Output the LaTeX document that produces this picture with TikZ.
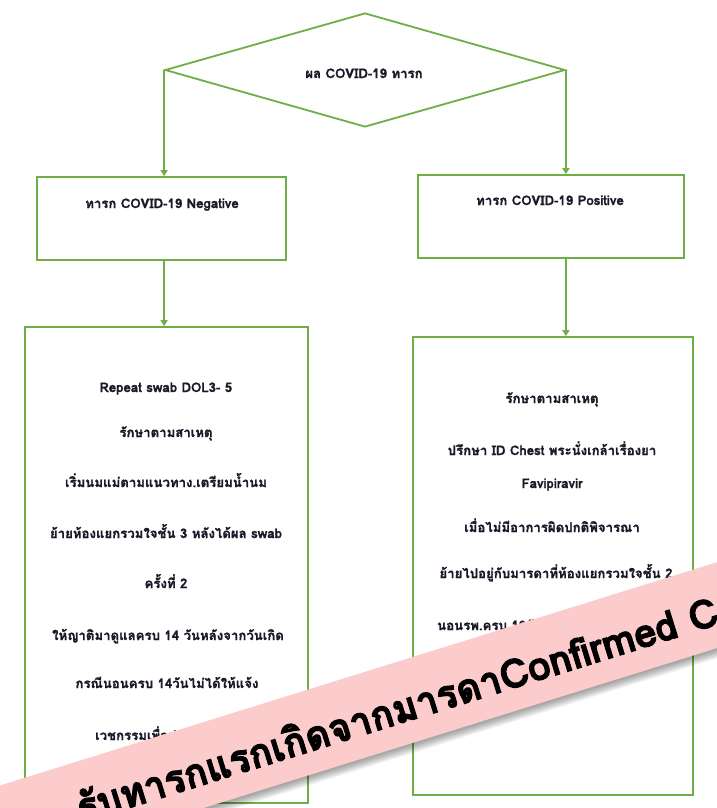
\documentclass[tikz,border=0pt]{standalone}
\usepackage{fontspec}
\newfontfamily\thaifont[Script=Thai,BoldFeatures={FakeBold=1.2}]{Loma}
\newfontfamily\banfont[Script=Thai,BoldFeatures={FakeBold=2.5}]{Loma}
\usetikzlibrary{arrows.meta,shapes.geometric}
\definecolor{grn}{RGB}{112,173,71}
\definecolor{pinkb}{RGB}{252,204,204}
\definecolor{ink}{RGB}{25,25,40}
\begin{document}
\begin{tikzpicture}[x=1pt,y=-1pt,
  boxs/.style={draw=grn,line width=1.8pt,rectangle,inner sep=0pt},
  conn/.style={draw=grn,line width=1.8pt,-{Triangle[width=7pt,length=6pt]}},
  txt/.style={font=\thaifont\bfseries\fontsize{13.2}{15}\selectfont,text=ink,inner sep=0pt,anchor=base},
  bantxt/.style={font=\banfont\bfseries\fontsize{40}{44}\selectfont,text=black,inner sep=0pt,anchor=base west}]
\useasboundingbox (0,0) rectangle (717,808);
\clip (0,0) rectangle (717,808);
\fill[white] (0,0) rectangle (717,808);

% decision
\node[diamond,draw=grn,line width=1.8pt,aspect=3.5,minimum width=400pt,minimum height=114pt,inner sep=0pt] (dia) at (365,70) {};
\node[txt] (diat) at (364,78) {ผล COVID-19 ทารก};

% boxes
\node[boxs,minimum width=249pt,minimum height=83pt] (neg) at (161.5,218.5) {};
\node[txt] (negt) at (162,208) {ทารก COVID-19 Negative};
\node[boxs,minimum width=266pt,minimum height=83pt] (pos) at (551,216.5) {};
\node[txt] (post) at (550,205) {ทารก COVID-19 Positive};
\node[boxs,minimum width=283pt,minimum height=476pt] (negbig) at (166.5,565) {};
\node[boxs,minimum width=280pt,minimum height=458pt] (posbig) at (553,566) {};

% connectors
\draw[conn] (dia.west) -- (dia.west |- neg.north);
\draw[conn] (dia.east) -- (dia.east |- pos.north);
\draw[conn] (dia.west |- neg.south) -- (dia.west |- negbig.north);
\draw[conn] (dia.east |- pos.south) -- (dia.east |- posbig.north);

% left texts
\node[txt] (l1) at (166,392) {Repeat swab DOL3- 5};
\node[txt] (l2) at (166,437) {รักษาตามสาเหตุ};
\node[txt] (l3) at (166,487) {เริ่มนมแม่ตามแนวทาง.เตรียมน้ำนม};
\node[txt] (l4) at (166,538) {ย้ายห้องแยกรวมใจชั้น 3 หลังได้ผล swab};
\node[txt] (l5) at (166,588) {ครั้งที่ 2};
\node[txt] (l6) at (168,640) {ให้ญาติมาดูแลครบ 14 วันหลังจากวันเกิด};
\node[txt] (l7) at (167,688) {กรณีนอนครบ 14วันไม่ได้ให้แจ้ง};
\node[txt,anchor=base west] (l8) at (95,740) {เวชกรรมเพื่อประสาน};

% right texts
\node[txt] (r1) at (552,403) {รักษาตามสาเหตุ};
\node[txt] (r2) at (552,455) {ปรึกษา ID Chest พระนั่งเกล้าเรื่องยา};
\node[txt] (r3) at (552,488) {Favipiravir};
\node[txt] (r4) at (552,532) {เมื่อไม่มีอาการผิดปกติพิจารณา};
\node[txt] (r5) at (556,578) {ย้ายไปอยู่กับมารดาที่ห้องแยกรวมใจชั้น 2};
\node[txt,anchor=base west] (r6) at (437,630) {นอนรพ.ครบ 10วันหลังคลอด};

% banner shadow
\begin{scope}[shift={(303,736)},rotate=17.3]
  \foreach \i in {1,...,9}
    \fill[black,opacity=0.045] (-700,-40) rectangle (800,40+\i);
\end{scope}
% banner
\begin{scope}[shift={(300,735)},rotate=17.3]
  \fill[pinkb] (-700,-41) rectangle (800,41);
  \node[bantxt,transform shape] (ban) at (208,19) {\llap{\scalebox{0.95}[1]{รับทารกแรกเกิดจากมารดา}}Confirmed COVID-19};
\end{scope}
\end{tikzpicture}
\end{document}
